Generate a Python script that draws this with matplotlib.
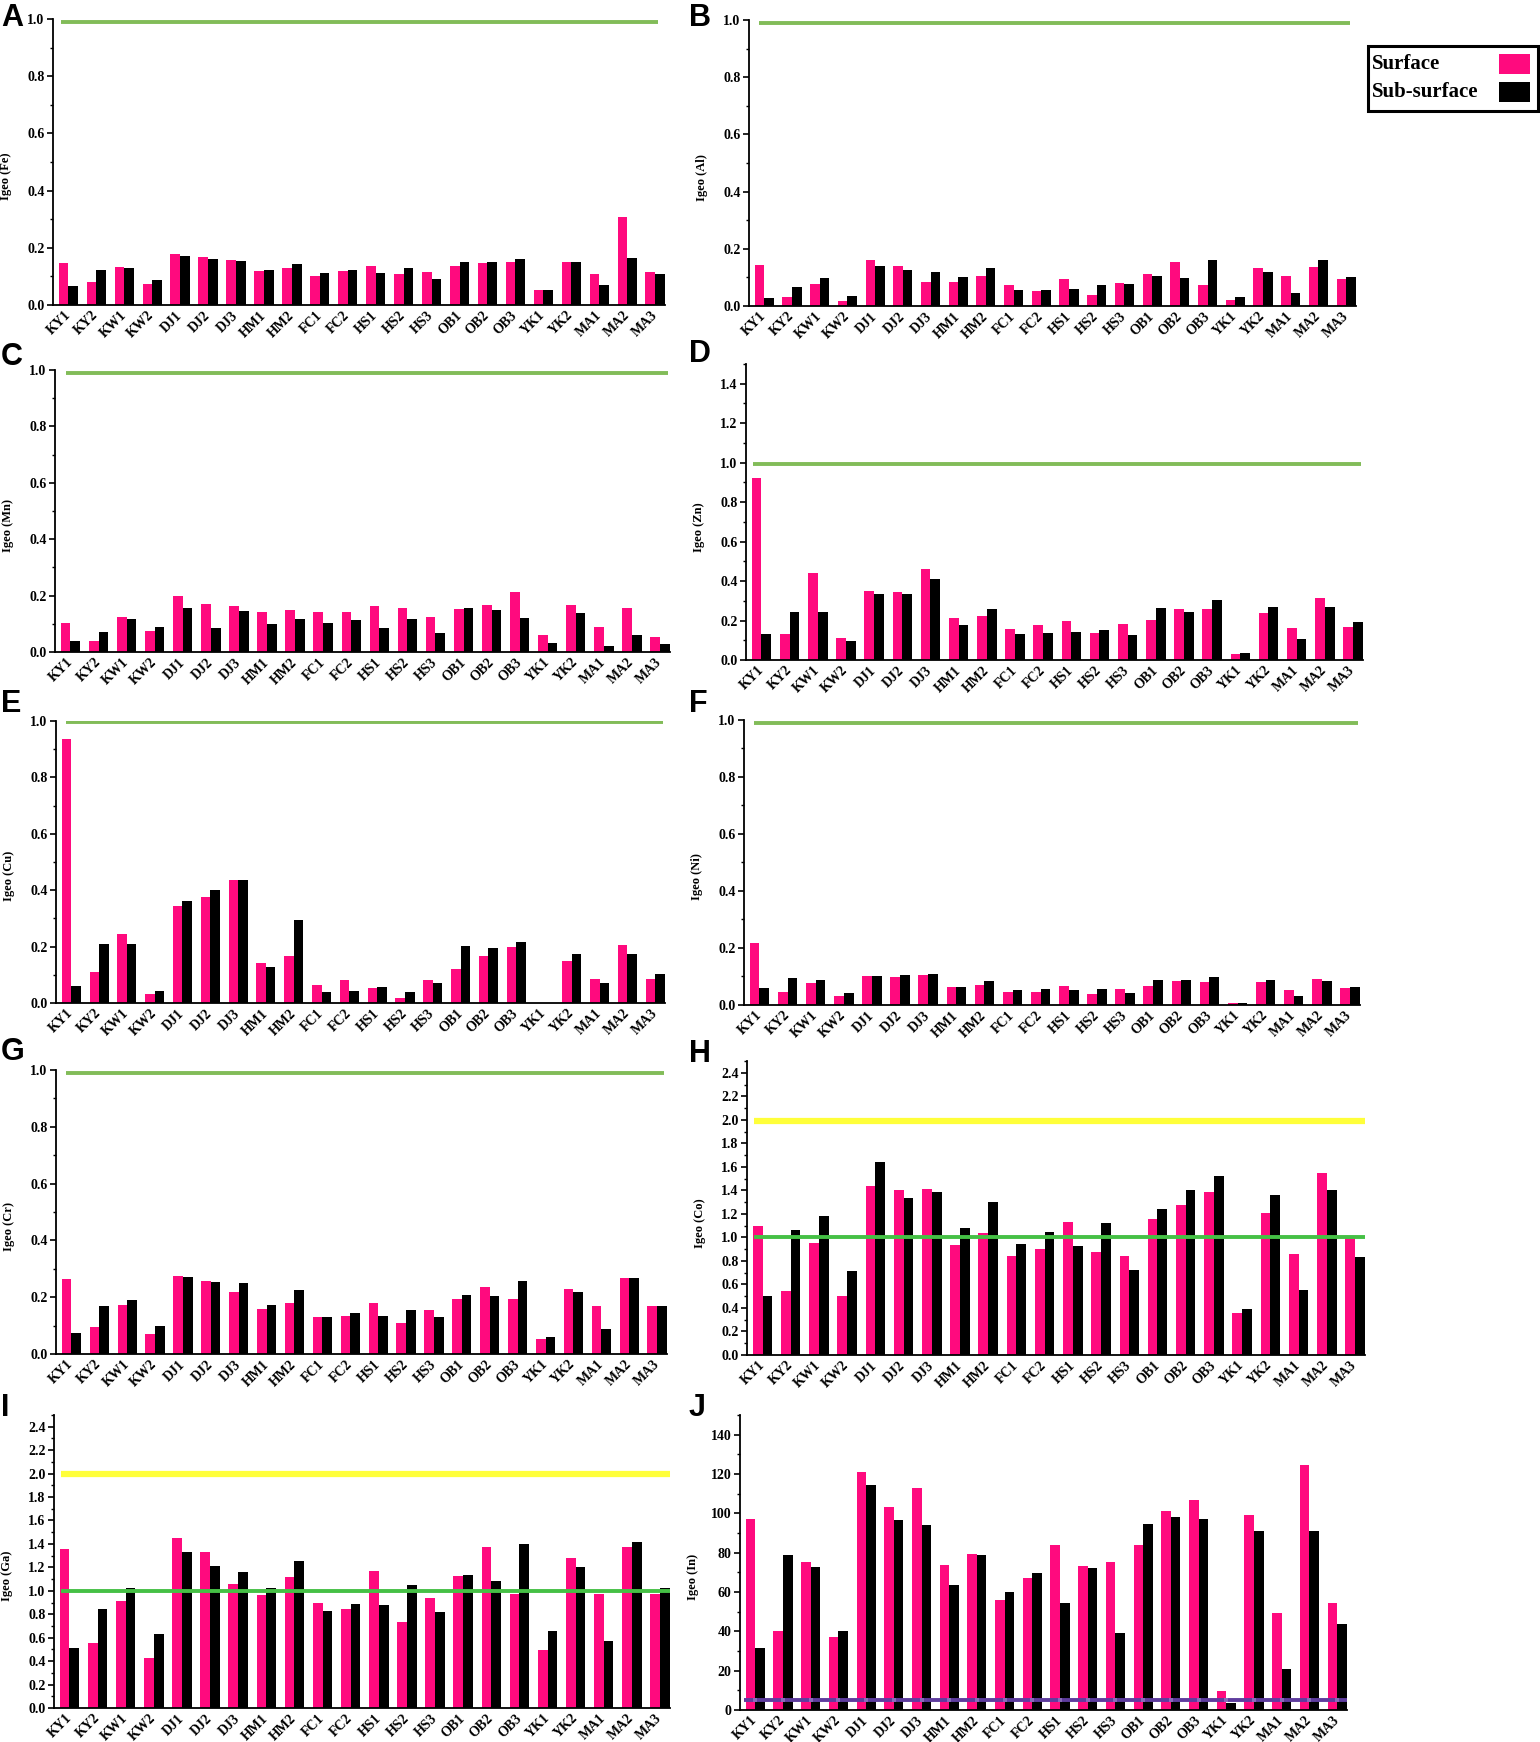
import matplotlib
matplotlib.use('Agg')
import matplotlib.pyplot as plt
from matplotlib.patches import Rectangle
from matplotlib.ticker import MultipleLocator, FormatStrFormatter
import numpy as np

plt.rcParams['font.family'] = ['Liberation Serif', 'DejaVu Serif']
plt.rcParams['font.weight'] = 'bold'

sites = ['KY1', 'KY2', 'KW1', 'KW2', 'DJ1', 'DJ2', 'DJ3', 'HM1', 'HM2', 'FC1', 'FC2',
         'HS1', 'HS2', 'HS3', 'OB1', 'OB2', 'OB3', 'YK1', 'YK2', 'MA1', 'MA2', 'MA3']

fe_surface = [0.147, 0.082, 0.134, 0.072, 0.179, 0.167, 0.159, 0.120, 0.130, 0.100, 0.118,
              0.138, 0.109, 0.114, 0.135, 0.147, 0.151, 0.051, 0.151, 0.110, 0.308, 0.114]
fe_sub = [0.067, 0.121, 0.128, 0.089, 0.173, 0.161, 0.154, 0.124, 0.142, 0.111, 0.124,
          0.111, 0.128, 0.091, 0.151, 0.149, 0.160, 0.053, 0.151, 0.071, 0.166, 0.110]

al_surface = [0.144, 0.030, 0.076, 0.018, 0.161, 0.141, 0.085, 0.085, 0.105, 0.075, 0.054,
              0.096, 0.037, 0.082, 0.112, 0.155, 0.074, 0.022, 0.134, 0.105, 0.138, 0.093]
al_sub = [0.027, 0.065, 0.097, 0.035, 0.141, 0.126, 0.120, 0.100, 0.133, 0.057, 0.057,
          0.061, 0.072, 0.078, 0.105, 0.097, 0.161, 0.032, 0.118, 0.044, 0.161, 0.100]

mn_surface = [0.103, 0.040, 0.124, 0.073, 0.198, 0.169, 0.162, 0.143, 0.148, 0.143, 0.143,
              0.163, 0.156, 0.123, 0.154, 0.166, 0.214, 0.062, 0.166, 0.090, 0.157, 0.052]
mn_sub = [0.040, 0.071, 0.117, 0.089, 0.157, 0.085, 0.147, 0.101, 0.117, 0.103, 0.114,
          0.086, 0.117, 0.069, 0.155, 0.150, 0.122, 0.032, 0.138, 0.020, 0.060, 0.028]

zn_surface = [0.923, 0.132, 0.440, 0.112, 0.348, 0.343, 0.462, 0.211, 0.223, 0.159, 0.179,
              0.200, 0.139, 0.183, 0.201, 0.257, 0.257, 0.032, 0.237, 0.164, 0.315, 0.169]
zn_sub = [0.132, 0.243, 0.245, 0.096, 0.336, 0.333, 0.409, 0.176, 0.257, 0.130, 0.139,
          0.144, 0.152, 0.125, 0.262, 0.245, 0.304, 0.037, 0.271, 0.108, 0.269, 0.194]

cu_surface = [0.937, 0.109, 0.246, 0.031, 0.343, 0.375, 0.436, 0.143, 0.165, 0.064, 0.082,
              0.054, 0.019, 0.082, 0.121, 0.165, 0.197, 0.0, 0.150, 0.085, 0.204, 0.084]
cu_sub = [0.061, 0.209, 0.209, 0.041, 0.362, 0.400, 0.436, 0.126, 0.294, 0.038, 0.044,
          0.056, 0.040, 0.070, 0.202, 0.195, 0.217, 0.0, 0.174, 0.070, 0.174, 0.104]

ni_surface = [0.218, 0.046, 0.077, 0.033, 0.100, 0.098, 0.105, 0.062, 0.071, 0.044, 0.044,
              0.065, 0.040, 0.055, 0.068, 0.083, 0.081, 0.008, 0.079, 0.054, 0.091, 0.058]
ni_sub = [0.058, 0.093, 0.086, 0.041, 0.100, 0.106, 0.109, 0.062, 0.085, 0.051, 0.057,
          0.054, 0.057, 0.041, 0.086, 0.086, 0.097, 0.008, 0.086, 0.033, 0.084, 0.062]

cr_surface = [0.263, 0.096, 0.173, 0.069, 0.273, 0.257, 0.218, 0.157, 0.180, 0.129, 0.135,
              0.181, 0.110, 0.154, 0.194, 0.236, 0.192, 0.053, 0.228, 0.168, 0.268, 0.168]
cr_sub = [0.074, 0.169, 0.190, 0.099, 0.270, 0.252, 0.249, 0.174, 0.225, 0.130, 0.144,
          0.135, 0.156, 0.131, 0.208, 0.204, 0.257, 0.059, 0.219, 0.089, 0.268, 0.168]

co_surface = [1.101, 0.548, 0.950, 0.502, 1.435, 1.399, 1.410, 0.933, 1.041, 0.843, 0.902,
              1.132, 0.874, 0.845, 1.160, 1.279, 1.390, 0.357, 1.209, 0.860, 1.549, 1.013]
co_sub = [0.505, 1.067, 1.183, 0.715, 1.640, 1.333, 1.387, 1.081, 1.299, 0.948, 1.050,
          0.928, 1.121, 0.726, 1.245, 1.399, 1.518, 0.394, 1.359, 0.556, 1.404, 0.834]

ga_surface = [1.354, 0.553, 0.912, 0.430, 1.454, 1.331, 1.058, 0.961, 1.120, 0.892, 0.847,
              1.172, 0.730, 0.935, 1.126, 1.371, 0.975, 0.496, 1.280, 0.975, 1.371, 0.975]
ga_sub = [0.510, 0.841, 1.026, 0.633, 1.334, 1.209, 1.160, 1.026, 1.251, 0.824, 0.887,
          0.875, 1.052, 0.815, 1.132, 1.080, 1.402, 0.658, 1.206, 0.573, 1.420, 1.026]

in_surface = [97.0, 40.4, 75.3, 36.9, 120.8, 103.0, 113.1, 73.9, 79.5, 56.1, 67.1,
              83.8, 73.2, 75.1, 83.8, 101.1, 106.9, 9.7, 99.0, 49.4, 124.7, 54.4]
in_sub = [31.4, 79.0, 72.9, 40.1, 114.3, 96.7, 94.3, 63.4, 79.0, 60.1, 69.5,
          54.4, 72.0, 39.1, 94.8, 98.0, 97.0, 3.7, 90.9, 21.1, 91.2, 43.5]

legend_labels = ['Surface', 'Sub-surface']

PINK = '#FF0A7E'
GREEN1 = '#82BC58'
GREEN2 = '#45C045'
YELLOW = '#FFFF3A'
PURPLE = '#5E3C9E'

W, H = 1540, 1742
fig = plt.figure(figsize=(W / 100, H / 100), dpi=100)

# (letter, ylabel, surface, subsurface, (left, right, bottom, top) px, ymax, major, minor, fmt, lines, letter pos)
panels = [
    ('A', 'Igeo (Fe)', fe_surface, fe_sub, (53, 665, 305, 19), 1.0, 0.2, 0.1, '%.1f',
     [(0.99, GREEN1, 2.8, -0.28, 21.1)], (1, 3)),
    ('B', 'Igeo (Al)', al_surface, al_sub, (749, 1356, 306, 20), 1.0, 0.2, 0.1, '%.1f',
     [(0.99, GREEN1, 2.8, -0.2, 21.15)], (689, 3)),
    ('C', 'Igeo (Mn)', mn_surface, mn_sub, (55, 670, 652, 370), 1.0, 0.2, 0.1, '%.1f',
     [(0.99, GREEN1, 2.8, -0.15, 21.3)], (1, 342)),
    ('D', 'Igeo (Zn)', zn_surface, zn_sub, (746, 1363, 660, 364), 1.5, 0.2, 0.1, '%.1f',
     [(0.995, GREEN1, 2.8, -0.3, 21.3)], (689, 339)),
    ('E', 'Igeo (Cu)', cu_surface, cu_sub, (56, 665, 1003, 721), 1.0, 0.2, 0.1, '%.1f',
     [(0.995, GREEN1, 2.8, -0.2, 21.3)], (1, 689)),
    ('F', 'Igeo (Ni)', ni_surface, ni_sub, (744, 1360, 1005, 720), 1.0, 0.2, 0.1, '%.1f',
     [(0.99, GREEN1, 2.8, -0.2, 21.3)], (689, 689)),
    ('G', 'Igeo (Cr)', cr_surface, cr_sub, (56, 667, 1354, 1070), 1.0, 0.2, 0.1, '%.1f',
     [(0.99, GREEN1, 2.8, -0.2, 21.25)], (1, 1037)),
    ('H', 'Igeo (Co)', co_surface, co_sub, (747, 1365, 1355, 1061), 2.5, 0.2, 0.1, '%.1f',
     [(1.0, GREEN2, 2.8, -0.3, 21.35), (1.99, YELLOW, 4.5, -0.3, 21.45)], (689, 1039)),
    ('I', 'Igeo (Ga)', ga_surface, ga_sub, (54, 670, 1708, 1415), 2.5, 0.2, 0.1, '%.1f',
     [(1.0, GREEN2, 2.8, -0.3, 21.35), (2.0, YELLOW, 4.5, -0.3, 21.35)], (1, 1393)),
    ('J', 'Igeo (In)', in_surface, in_sub, (740, 1347, 1710, 1415), 150, 20, 10, '%d',
     [(5.0, PURPLE, 2.8, -0.4, 21.35)], (689, 1393)),
]

w = 0.345
x = np.arange(len(sites))

for (letter, ylab, s, b, (l, r, bt, tp), ymax, major, minor, fmt, lines, (lx, ly)) in panels:
    ax = fig.add_axes([l / W, 1 - bt / H, (r - l) / W, (bt - tp) / H])
    ax.bar(x - w / 2, s, w, color=PINK, linewidth=0, zorder=2)
    ax.bar(x + w / 2, b, w, color='black', linewidth=0, zorder=2)
    for (yv, col, lw, x0, x1) in lines:
        ax.plot([x0, x1], [yv, yv], color=col, lw=lw, zorder=3, solid_capstyle='butt')
        if col == PURPLE:
            ax.plot(x, [yv] * len(x), linestyle='none', marker='s', ms=3,
                    color='#A58AD0', alpha=0.6, zorder=4, markeredgewidth=0)
    ax.set_xlim(-0.55, len(sites) - 1 + w + 0.01)
    ax.set_ylim(0, ymax)
    ax.spines['top'].set_visible(False)
    ax.spines['right'].set_visible(False)
    ax.spines['left'].set_linewidth(1.3)
    ax.spines['bottom'].set_linewidth(1.3)
    ax.yaxis.set_major_locator(MultipleLocator(major))
    ax.yaxis.set_minor_locator(MultipleLocator(minor))
    ax.yaxis.set_major_formatter(FormatStrFormatter(fmt))
    ax.tick_params(axis='y', which='major', direction='out', length=4, width=1.2,
                   labelsize=10, pad=2)
    ax.tick_params(axis='y', which='minor', direction='out', length=2.5, width=1.0)
    ax.set_xticks(x)
    ax.set_xticklabels(sites, rotation=45, ha='right', va='center',
                       rotation_mode='anchor', fontsize=10, fontweight='bold')
    ax.tick_params(axis='x', length=0, pad=6)
    ax.set_ylabel(ylab, fontsize=9, fontweight='bold')
    ax.yaxis.set_label_coords(-41 / (r - l), 0.45)
    fig.text(lx / W, 1 - ly / H, letter, fontsize=22, fontweight='bold',
             family='Liberation Sans', ha='left', va='top')

# legend drawn as a framed box: labels left, colour swatches right
def px(xp, yp):
    return xp / W, 1 - yp / H

fig.patches.append(Rectangle(px(1368, 111), 170 / W, 65 / H, transform=fig.transFigure,
                             facecolor='white', edgecolor='black', linewidth=2.2, zorder=5))
for lab, col, yc in zip(legend_labels, [PINK, 'black'], [64, 92]):
    fig.text(*px(1372, yc), lab, fontsize=15, fontweight='bold', ha='left', va='center',
             zorder=6)
    fig.patches.append(Rectangle(px(1499, yc + 10), 31 / W, 20 / H,
                                 transform=fig.transFigure, facecolor=col,
                                 edgecolor='none', zorder=6))

fig.savefig('out.png', dpi=100)
